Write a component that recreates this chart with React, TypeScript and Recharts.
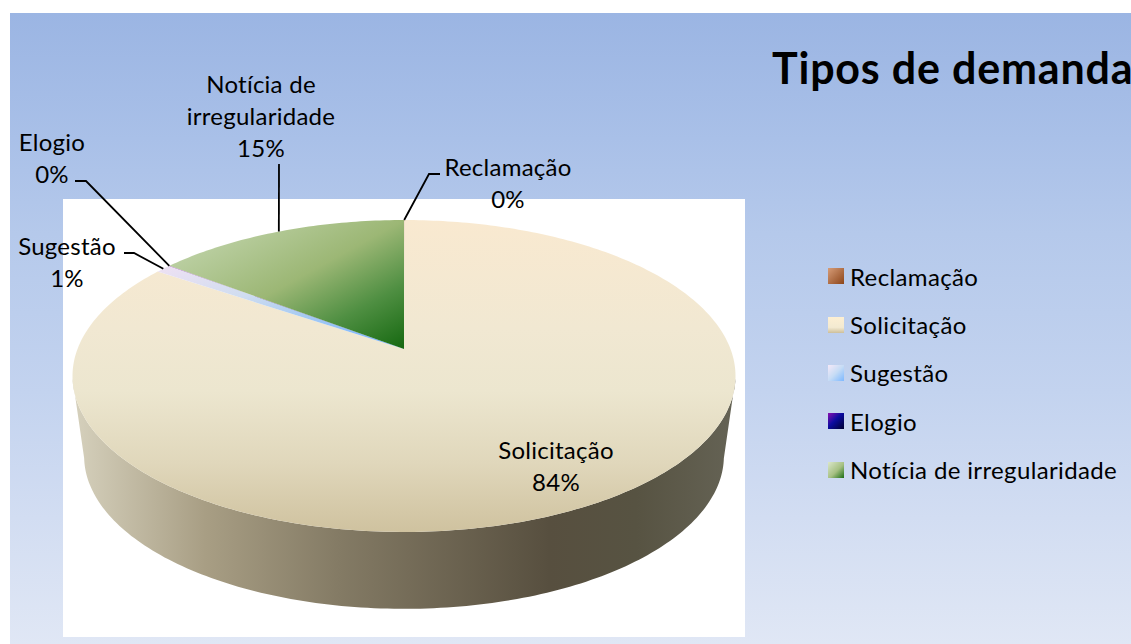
import React from "react";
import { PieChart, Pie, Legend } from "recharts";

const categories = ["Reclamação", "Solicitação", "Sugestão", "Elogio", "Notícia de irregularidade"];
const shares = [0.02, 84.46, 0.9, 0.02, 14.6];
const chartTitle = "Tipos de demanda";

const FONT = "Lato, 'Open Sans', sans-serif";
const LABEL_SIZE = 24;
const LINE_H = 32;

const faceFills = ["url(#gRec)", "url(#gSol)", "url(#gSug)", "url(#gElo)", "url(#gNot)"];
const swatches = [
  "linear-gradient(135deg,#d69c78,#8c4519)",
  "linear-gradient(180deg,#fdefd3,#f3ead1 65%,#cdbf9b)",
  "linear-gradient(135deg,#f6e9f8,#c6dcf5 50%,#7db8ff)",
  "linear-gradient(135deg,#8a10b0,#0c0ca0 45%,#000030)",
  "linear-gradient(135deg,#dbe7ca,#a6c083 55%,#1c6e14)",
];
// label centre, first-line y and leader bend points, in page pixels
const labelLayout = [
  { x: 508, y: 166, leader: [[440, 174], [429, 174]] },
  { x: 556, y: 449, leader: [] },
  { x: 67, y: 245, leader: [[124, 253], [134, 253]] },
  { x: 52, y: 141, leader: [[75, 181], [86, 181]] },
  { x: 261, y: 83, leader: [[279, 164]] },
];

// Perspective of the tilted disc
const B = -0.173;
const TILT = 0.4634;
const DEPTH = 80;
const BOTTOM_RX = 0.965;
const BOTTOM_RY = 0.98;

function warp(cx: number, cy: number, r: number, deg: number) {
  const t = (deg * Math.PI) / 180;
  const X = Math.cos(t);
  const Y = -Math.sin(t);
  const d = 1 + B * Y;
  return { x: cx + (r * X) / d, y: cy + (r * TILT * Y) / d };
}

function sample(a0: number, a1: number) {
  const n = Math.max(2, Math.ceil(Math.abs(a1 - a0)));
  return Array.from({ length: n + 1 }, (_, i) => a0 + ((a1 - a0) * i) / n);
}

function PerspectiveSector(props: any) {
  const { cx, cy, outerRadius: r, startAngle, endAngle, index } = props;
  const pts = sample(startAngle, endAngle).map((a) => warp(cx, cy, r, a));
  const face = `M${cx},${cy} ` + pts.map((p) => `L${p.x},${p.y}`).join(" ") + " Z";
  const midY = cy + (r * TILT * -B) / (1 - B * B);
  const front = pts.filter((p) => p.y >= midY);
  let wall = "";
  if (front.length > 1) {
    const lower = front
      .slice()
      .reverse()
      .map((p) => ({
        x: cx + (p.x - cx) * BOTTOM_RX,
        y: midY + DEPTH + (p.y - midY) * BOTTOM_RY,
      }));
    wall = "M" + front.concat(lower).map((p) => `${p.x},${p.y}`).join(" L") + " Z";
  }
  return (
    <g>
      {wall && <path d={wall} fill="url(#gWall)" stroke="none" />}
      <path d={face} fill={faceFills[index]} stroke="none" />
    </g>
  );
}

function wrapWords(s: string) {
  const out: string[] = [];
  let line = "";
  s.split(" ").forEach((w) => {
    if (line && (line + " " + w).length > 15) {
      out.push(line);
      line = w;
    } else line = line ? line + " " + w : w;
  });
  out.push(line);
  return out;
}

function SliceLabel(props: any) {
  const { cx, cy, outerRadius: r, midAngle, percent, name, index } = props;
  const box = labelLayout[index];
  const lines = [...wrapWords(name), `${Math.round(percent * 100)}%`];
  const tip = warp(cx, cy, r, midAngle);
  const leader = box.leader.length
    ? box.leader.map((p) => p.join(",")).join(" ") + ` ${tip.x},${tip.y}`
    : "";
  return (
    <g>
      {leader && <polyline points={leader} fill="none" stroke="#000" strokeWidth={1.8} />}
      {lines.map((t, i) => (
        <text
          key={i}
          x={box.x}
          y={box.y + i * LINE_H}
          textAnchor="middle"
          dominantBaseline="central"
          fontFamily={FONT}
          fontSize={LABEL_SIZE}
          letterSpacing={0.25}
          fill="#000"
        >
          {t}
        </text>
      ))}
    </g>
  );
}

function LegendList({ payload }: any) {
  return (
    <div style={{ fontFamily: FONT, fontSize: LABEL_SIZE, letterSpacing: 0.36, color: "#000" }}>
      {(payload || []).map((e: any, i: number) => (
        <div key={i} style={{ height: 48.4, display: "flex", alignItems: "center" }}>
          <span style={{ width: 16, height: 16, marginRight: 6, background: swatches[i], display: "block" }} />
          <span style={{ whiteSpace: "nowrap" }}>{e.value}</span>
        </div>
      ))}
    </div>
  );
}

const data = categories.map((name, i) => ({ name, value: shares[i] }));

export default function App() {
  return (
    <div style={{ position: "absolute", left: 0, top: 0, width: 1131, height: 644, overflow: "hidden", background: "#fff" }}>
      <div
        style={{
          position: "absolute",
          left: 10,
          top: 13,
          width: 1121,
          height: 631,
          background: "linear-gradient(180deg,#9bb5e3 0%,#a9c0e8 20%,#b5c9eb 35%,#c3d3ef 60%,#d2ddf2 80%,#e0e7f5 100%)",
        }}
      />
      <div style={{ position: "absolute", left: 63, top: 199, width: 682, height: 438, background: "#fff" }} />
      <div style={{ position: "absolute", left: 0, top: 0 }}>
        <PieChart width={1131} height={644} margin={{ top: 0, right: 0, bottom: 0, left: 0 }}>
          <defs>
            <linearGradient id="gSol" x1="0" y1="0" x2="0" y2="1">
              <stop offset="0" stopColor="#f9e9d0" />
              <stop offset="0.35" stopColor="#f1e8d2" />
              <stop offset="0.55" stopColor="#ece6cf" />
              <stop offset="0.78" stopColor="#e0d7bb" />
              <stop offset="1" stopColor="#cfc29f" />
            </linearGradient>
            <linearGradient id="gWall" x1="0" y1="0" x2="1" y2="0">
              <stop offset="0" stopColor="#d6d1bd" />
              <stop offset="0.2" stopColor="#a89e84" />
              <stop offset="0.4" stopColor="#847b65" />
              <stop offset="0.72" stopColor="#574f3f" />
              <stop offset="0.85" stopColor="#575342" />
              <stop offset="1" stopColor="#656355" />
            </linearGradient>
            <linearGradient id="gNot" x1="0" y1="0" x2="1" y2="1">
              <stop offset="0" stopColor="#cadbb8" />
              <stop offset="0.5" stopColor="#9cb775" />
              <stop offset="0.75" stopColor="#4f8f42" />
              <stop offset="1" stopColor="#156810" />
            </linearGradient>
            <linearGradient id="gSug" x1="0" y1="0" x2="1" y2="1">
              <stop offset="0" stopColor="#efe1f3" />
              <stop offset="0.35" stopColor="#d0ddf0" />
              <stop offset="0.6" stopColor="#a6caf3" />
              <stop offset="1" stopColor="#6fb0ff" />
            </linearGradient>
            <linearGradient id="gRec" x1="0" y1="0" x2="1" y2="1">
              <stop offset="0" stopColor="#d69c78" />
              <stop offset="1" stopColor="#8c4519" />
            </linearGradient>
            <linearGradient id="gElo" x1="0" y1="0" x2="1" y2="1">
              <stop offset="0" stopColor="#8a10b0" />
              <stop offset="1" stopColor="#000030" />
            </linearGradient>
          </defs>
          <text x={772} y={84} fontFamily={FONT} fontWeight={700} fontSize={43} letterSpacing={0.8} fill="#000">
            {chartTitle}
          </text>
          <Pie
            data={data}
            dataKey="value"
            nameKey="name"
            cx={404}
            cy={349}
            innerRadius={0}
            outerRadius={326.5}
            startAngle={90}
            endAngle={-270}
            stroke="none"
            isAnimationActive={false}
            shape={PerspectiveSector}
            label={SliceLabel}
            labelLine={false}
          />
          <Legend
            layout="vertical"
            align="right"
            verticalAlign="middle"
            itemSorter={null}
            content={LegendList}
            wrapperStyle={{ position: "absolute", left: 828, top: 252, right: "auto", width: 300 }}
          />
        </PieChart>
      </div>
    </div>
  );
}
